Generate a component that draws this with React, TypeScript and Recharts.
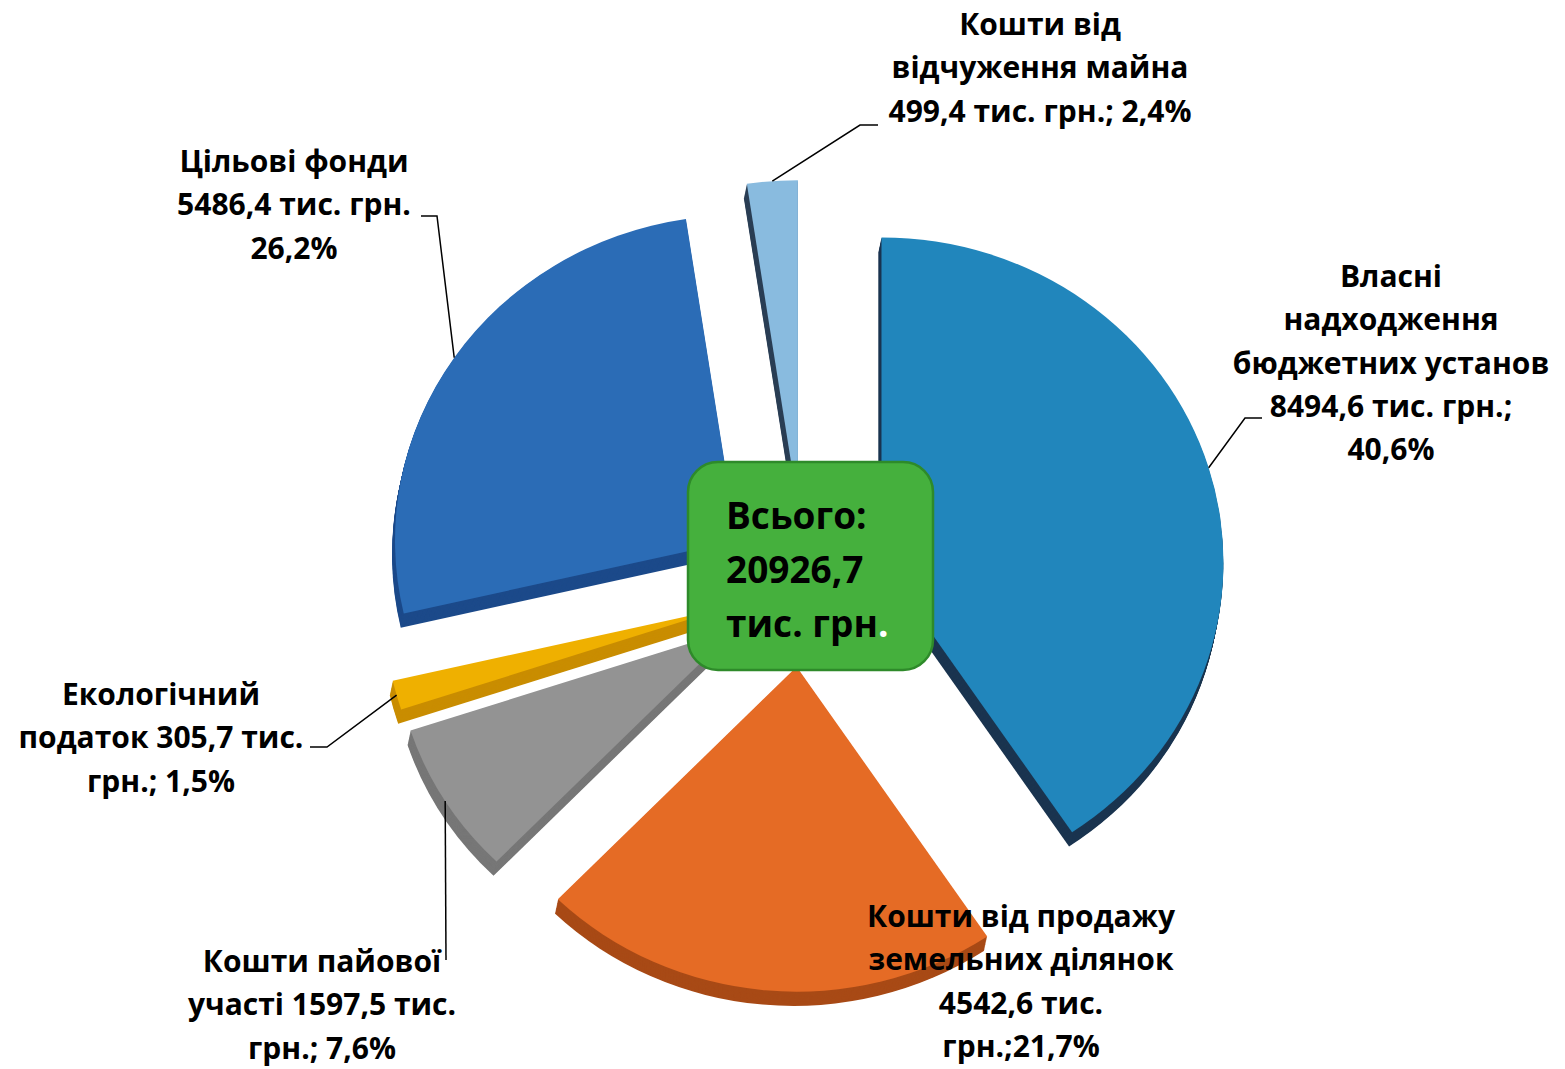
import React from 'react';
import { PieChart, Pie, Cell, Sector, Label } from 'recharts';

// категорії та значення (тис. грн.)
const CATEGORIES = [
  'Власні надходження бюджетних установ',
  'Кошти від продажу земельних ділянок',
  'Кошти пайової участі',
  'Екологічний податок',
  'Цільові фонди',
  'Кошти від відчуження майна',
];
const VALUES = [8494.6, 4542.6, 1597.5, 305.7, 5486.4, 499.4];

// підписи, як у оригіналі (по рядках)
const LABEL_LINES = [
  ['Власні', 'надходження', 'бюджетних установ', '8494,6 тис. грн.;', '40,6%'],
  ['Кошти від продажу', 'земельних ділянок', '4542,6 тис.', 'грн.;21,7%'],
  ['Кошти пайової', 'участі 1597,5 тис.', 'грн.; 7,6%'],
  ['Екологічний', 'податок 305,7 тис.', 'грн.; 1,5%'],
  ['Цільові фонди', '5486,4 тис. грн.', '26,2%'],
  ['Кошти від', 'відчуження майна', '499,4 тис. грн.; 2,4%'],
];
const TOTAL_LINES = ['Всього:', '20926,7', 'тис. грн'];

const data = CATEGORIES.map((name, i) => ({ name, value: VALUES[i] }));

// кольори: верхня грань + бокова (3D)
const SLICE_STYLE = [
  { top: '#2186bc', side: '#1b3550' },
  { top: '#e56b25', side: '#a84a16' },
  { top: '#939393', side: '#777777' },
  { top: '#efb000', side: '#c98d00' },
  { top: '#2b6cb6', side: '#1c4a8a' },
  { top: '#89bbdf', side: '#2b3f55' },
];

// розміщення підписів (центр тексту, перша базова лінія, злам лінії-виноски)
const LABEL_LAYOUT: any[] = [
  { x: 1391, y: 287, elbow: [1245, 418], end: 1262 },
  { x: 1021, y: 927, elbow: null, end: 0 },
  { x: 322, y: 972, elbow: [446, 960], end: 446 },
  { x: 161, y: 705, elbow: [327, 747], end: 310 },
  { x: 294, y: 172, elbow: [437, 216], end: 421 },
  { x: 1040, y: 35, elbow: [860, 125], end: 878 },
];

const RAD = Math.PI / 180;
const EXPLODE = 81;
const DEPTH = 15;
const SQUASH = 325 / 342; // трохи сплющений (3D нахил)
const FONT = '"Open Sans", Lato, sans-serif';

const idxOf = (p: any) => {
  const n = p.name ?? p.payload?.name;
  const i = CATEGORIES.indexOf(n);
  return i >= 0 ? i : p.index ?? 0;
};

const ExplodedSlice = (props: any) => {
  const { cx, cy, innerRadius, outerRadius, startAngle, endAngle } = props;
  const mid = props.midAngle ?? (startAngle + endAngle) / 2;
  const i = idxOf(props);
  const st = SLICE_STYLE[i];
  const ox = cx + EXPLODE * Math.cos(-mid * RAD);
  const oy = cy + EXPLODE * Math.sin(-mid * RAD);
  const squash = `translate(${ox},${oy}) scale(1,${SQUASH}) translate(${-ox},${-oy})`;
  const sides = [];
  for (let k = DEPTH; k >= 1; k -= 1) {
    sides.push(
      <g key={k} transform={`translate(${-k * 0.2},${k})`}>
        <Sector
          cx={ox}
          cy={oy}
          innerRadius={innerRadius}
          outerRadius={outerRadius}
          startAngle={startAngle}
          endAngle={endAngle}
          fill={st.side}
          stroke="none"
        />
      </g>
    );
  }
  return (
    <g transform={squash}>
      {sides}
      <Sector
        cx={ox}
        cy={oy}
        innerRadius={innerRadius}
        outerRadius={outerRadius}
        startAngle={startAngle}
        endAngle={endAngle}
        fill={st.top}
        stroke="none"
      />
    </g>
  );
};

const renderLabel = (props: any) => {
  const { cx, cy, outerRadius, midAngle } = props;
  const i = idxOf(props);
  const lay = LABEL_LAYOUT[i];
  const lines = LABEL_LINES[i];
  const ox = cx + EXPLODE * Math.cos(-midAngle * RAD);
  const oy = cy + EXPLODE * Math.sin(-midAngle * RAD);
  const sx = ox + outerRadius * Math.cos(-midAngle * RAD);
  const sy = oy + outerRadius * SQUASH * Math.sin(-midAngle * RAD);
  return (
    <g key={`lbl-${i}`}>
      {lay.elbow && (
        <polyline
          points={`${sx},${sy} ${lay.elbow[0]},${lay.elbow[1]} ${lay.end},${lay.elbow[1]}`}
          fill="none"
          stroke="#000"
          strokeWidth={1.5}
        />
      )}
      <text
        x={lay.x}
        y={lay.y}
        textAnchor="middle"
        fontFamily={FONT}
        fontWeight={700}
        fontSize={30}
        fill="#000"
      >
        {lines.map((t: string, j: number) => (
          <tspan key={j} x={lay.x} y={lay.y + j * 43.3}>
            {t}
          </tspan>
        ))}
      </text>
    </g>
  );
};

const TotalBox = (props: any) => {
  const vb = props.viewBox || {};
  const cx = vb.cx ?? 804;
  const cy = vb.cy ?? 586;
  const x0 = cx - 116;
  const y0 = cy - 124;
  return (
    <g>
      <rect x={x0} y={y0} width={245} height={208} rx={30} ry={30} fill="#45b03d" stroke="#2e8a2a" strokeWidth={2.5} />
      <text fontFamily={FONT} fontWeight={700} fontSize={37} fill="#000">
        {TOTAL_LINES.map((t, j) => (
          <tspan key={j} x={x0 + 38} y={y0 + 67 + j * 54}>
            {t}
            {j === TOTAL_LINES.length - 1 && <tspan fill="#fff">.</tspan>}
          </tspan>
        ))}
      </text>
    </g>
  );
};

export default function App() {
  return (
    <div style={{ position: 'absolute', left: 0, top: 0, width: 1565, height: 1069, background: '#fff' }}>
      <PieChart width={1565} height={1069} margin={{ top: 0, right: 0, bottom: 0, left: 0 }}>
        <Pie
          data={data}
          dataKey="value"
          nameKey="name"
          cx={804}
          cy={586}
          innerRadius={0}
          outerRadius={342}
          startAngle={90}
          endAngle={-270}
          stroke="none"
          isAnimationActive={false}
          shape={ExplodedSlice}
          activeShape={ExplodedSlice}
          inactiveShape={ExplodedSlice}
          label={renderLabel}
          labelLine={false}
        >
          {data.map((d, i) => (
            <Cell key={d.name} fill={SLICE_STYLE[i].top} />
          ))}
          <Label position="center" content={TotalBox} />
        </Pie>
      </PieChart>
    </div>
  );
}
